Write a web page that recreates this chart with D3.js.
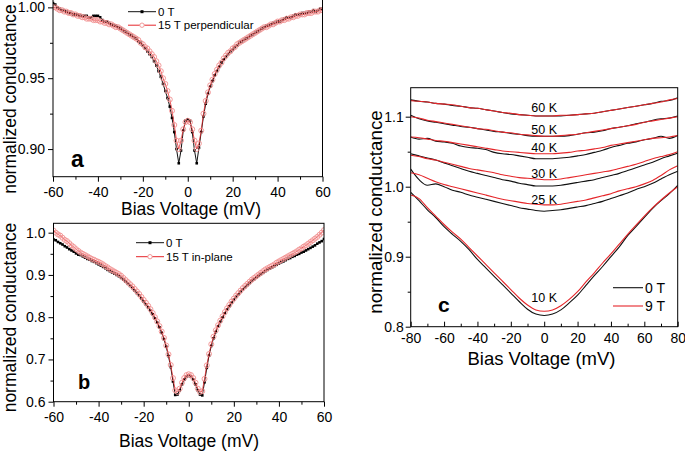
<!DOCTYPE html>
<html>
<head>
<meta charset="utf-8">
<script src="https://cdn.jsdelivr.net/npm/d3@7"></script>
<style>
  body { margin: 0; background: #fff; }
  svg { display: block; font-family: "Liberation Sans", Arial, sans-serif; }
</style>
</head>
<body>
<div id="chart"></div>
<script>
// ---- panels a and b: bias grid in mV, 1 mV steps
const biasAB = d3.range(-60, 61, 1);

const aZeroT = [
  1.003, 1.002, 1.000, 0.999, 0.998, 0.998, 0.997, 0.996, 0.996, 0.995,
  0.995, 0.995, 0.994, 0.994, 0.994, 0.994, 0.993, 0.993, 0.994, 0.994,
  0.994, 0.993, 0.991, 0.990, 0.990, 0.989, 0.988, 0.987, 0.987, 0.986,
  0.985, 0.984, 0.983, 0.982, 0.981, 0.980, 0.979, 0.978, 0.976, 0.975,
  0.973, 0.971, 0.969, 0.967, 0.965, 0.962, 0.959, 0.955, 0.951, 0.946,
  0.941, 0.936, 0.930, 0.922, 0.912, 0.900, 0.890, 0.899, 0.913, 0.920,
  0.921,
  0.920, 0.912, 0.899, 0.890, 0.901, 0.912, 0.923, 0.932, 0.939, 0.944,
  0.948, 0.952, 0.955, 0.958, 0.961, 0.963, 0.965, 0.967, 0.969, 0.970,
  0.972, 0.973, 0.975, 0.976, 0.977, 0.978, 0.979, 0.980, 0.981, 0.982,
  0.983, 0.984, 0.985, 0.986, 0.987, 0.987, 0.988, 0.989, 0.989, 0.990,
  0.990, 0.991, 0.992, 0.993, 0.993, 0.993, 0.994, 0.995, 0.995, 0.995,
  0.996, 0.996, 0.996, 0.997, 0.997, 0.998, 0.997, 0.998, 0.999, 0.999,
];
const aPerp = [
  1.000, 1.000, 0.999, 0.998, 0.998, 0.997, 0.997, 0.996, 0.996, 0.995,
  0.995, 0.994, 0.994, 0.993, 0.993, 0.992, 0.992, 0.992, 0.991, 0.991,
  0.991, 0.990, 0.990, 0.989, 0.989, 0.988, 0.988, 0.987, 0.986, 0.986,
  0.985, 0.984, 0.983, 0.982, 0.981, 0.980, 0.979, 0.978, 0.977, 0.975,
  0.974, 0.972, 0.971, 0.969, 0.967, 0.965, 0.962, 0.959, 0.955, 0.950,
  0.946, 0.941, 0.935, 0.927, 0.917, 0.906, 0.900, 0.906, 0.914, 0.919,
  0.920,
  0.919, 0.914, 0.906, 0.900, 0.904, 0.913, 0.925, 0.934, 0.940, 0.945,
  0.949, 0.953, 0.956, 0.959, 0.961, 0.964, 0.966, 0.968, 0.969, 0.971,
  0.972, 0.974, 0.975, 0.976, 0.977, 0.978, 0.979, 0.980, 0.981, 0.982,
  0.983, 0.984, 0.985, 0.986, 0.986, 0.987, 0.988, 0.988, 0.989, 0.990,
  0.990, 0.991, 0.991, 0.992, 0.992, 0.993, 0.993, 0.994, 0.994, 0.995,
  0.995, 0.995, 0.996, 0.996, 0.996, 0.997, 0.997, 0.997, 0.998, 0.998,
];
const bZeroT = [
  0.984, 0.982, 0.978, 0.975, 0.972, 0.968, 0.965, 0.961, 0.958, 0.955,
  0.951, 0.948, 0.947, 0.944, 0.941, 0.938, 0.936, 0.933, 0.931, 0.928,
  0.925, 0.922, 0.919, 0.916, 0.912, 0.909, 0.906, 0.903, 0.900, 0.897,
  0.893, 0.889, 0.884, 0.879, 0.874, 0.869, 0.863, 0.857, 0.851, 0.844,
  0.837, 0.830, 0.823, 0.815, 0.807, 0.797, 0.787, 0.776, 0.763, 0.748,
  0.730, 0.708, 0.682, 0.648, 0.616, 0.617, 0.627, 0.641, 0.652, 0.659,
  0.661,
  0.659, 0.652, 0.641, 0.627, 0.617, 0.615, 0.646, 0.680, 0.709, 0.732,
  0.750, 0.765, 0.778, 0.789, 0.799, 0.809, 0.818, 0.826, 0.834, 0.841,
  0.848, 0.854, 0.860, 0.866, 0.871, 0.876, 0.881, 0.886, 0.890, 0.894,
  0.898, 0.902, 0.905, 0.909, 0.912, 0.915, 0.918, 0.921, 0.924, 0.927,
  0.930, 0.932, 0.935, 0.938, 0.940, 0.943, 0.945, 0.948, 0.950, 0.953,
  0.955, 0.958, 0.961, 0.964, 0.967, 0.970, 0.974, 0.977, 0.980, 0.985,
];
const bInPlane = [
  1.005, 1.000, 0.996, 0.993, 0.988, 0.983, 0.980, 0.975, 0.970, 0.966,
  0.961, 0.957, 0.953, 0.950, 0.947, 0.944, 0.941, 0.938, 0.936, 0.933,
  0.931, 0.928, 0.925, 0.921, 0.918, 0.914, 0.911, 0.908, 0.905, 0.902,
  0.898, 0.893, 0.888, 0.883, 0.878, 0.873, 0.867, 0.861, 0.855, 0.848,
  0.841, 0.834, 0.827, 0.819, 0.810, 0.800, 0.790, 0.779, 0.766, 0.751,
  0.733, 0.712, 0.687, 0.656, 0.627, 0.623, 0.631, 0.645, 0.656, 0.663,
  0.665,
  0.663, 0.656, 0.645, 0.631, 0.623, 0.625, 0.654, 0.686, 0.713, 0.736,
  0.754, 0.769, 0.781, 0.792, 0.802, 0.812, 0.821, 0.829, 0.837, 0.844,
  0.851, 0.857, 0.863, 0.869, 0.874, 0.879, 0.884, 0.889, 0.893, 0.897,
  0.901, 0.905, 0.909, 0.913, 0.916, 0.919, 0.922, 0.925, 0.929, 0.932,
  0.935, 0.938, 0.941, 0.944, 0.947, 0.950, 0.953, 0.956, 0.960, 0.963,
  0.967, 0.970, 0.974, 0.978, 0.982, 0.986, 0.990, 0.995, 1.000, 1.006,
];

// ---- panel c: bias grid in mV, 5 mV steps
const biasC = d3.range(-80, 81, 5);
const c60K0T = [1.124,1.122,1.121,1.119,1.118,1.116,1.115,1.113,1.112,1.110,1.108,1.106,1.104,1.103,1.102,1.101,1.101,1.101,1.101,1.102,1.103,1.104,1.105,1.107,1.109,1.111,1.113,1.115,1.117,1.119,1.122,1.123,1.127];
const c60K9T = [1.123,1.122,1.121,1.119,1.118,1.117,1.115,1.113,1.112,1.110,1.108,1.106,1.105,1.103,1.102,1.101,1.101,1.101,1.102,1.102,1.103,1.104,1.105,1.107,1.109,1.111,1.113,1.115,1.117,1.119,1.121,1.124,1.126];
const c50K0T = [1.102,1.097,1.094,1.092,1.090,1.088,1.086,1.085,1.083,1.081,1.079,1.078,1.076,1.075,1.073,1.072,1.072,1.072,1.072,1.073,1.075,1.077,1.078,1.080,1.083,1.085,1.087,1.090,1.092,1.095,1.097,1.098,1.101];
const c50K9T = [1.100,1.098,1.095,1.093,1.091,1.089,1.087,1.085,1.083,1.082,1.080,1.078,1.077,1.075,1.074,1.073,1.072,1.072,1.073,1.074,1.075,1.077,1.079,1.081,1.083,1.085,1.087,1.089,1.092,1.094,1.096,1.098,1.100];
const c40K0T = [1.071,1.068,1.069,1.065,1.064,1.062,1.058,1.056,1.055,1.053,1.049,1.047,1.046,1.044,1.042,1.040,1.040,1.040,1.041,1.042,1.044,1.046,1.049,1.052,1.056,1.059,1.062,1.064,1.067,1.069,1.072,1.069,1.073];
const c40K9T = [1.071,1.070,1.068,1.066,1.065,1.063,1.061,1.059,1.057,1.055,1.053,1.051,1.050,1.049,1.048,1.047,1.047,1.047,1.048,1.049,1.051,1.052,1.054,1.056,1.059,1.061,1.063,1.065,1.067,1.069,1.070,1.071,1.073];
const c30K0T = [1.047,1.044,1.041,1.038,1.034,1.030,1.026,1.022,1.019,1.016,1.013,1.010,1.008,1.005,1.003,1.001,1.001,1.001,1.002,1.004,1.006,1.008,1.010,1.013,1.016,1.019,1.023,1.027,1.031,1.035,1.040,1.044,1.048];
const c30K9T = [1.045,1.043,1.040,1.038,1.035,1.032,1.029,1.026,1.024,1.022,1.020,1.017,1.015,1.013,1.012,1.011,1.010,1.010,1.011,1.013,1.015,1.017,1.019,1.021,1.023,1.026,1.029,1.032,1.036,1.040,1.043,1.046,1.050];
const c25K0T = [1.025,1.010,1.002,1.004,1.000,0.995,0.992,0.988,0.985,0.982,0.979,0.976,0.973,0.970,0.968,0.966,0.965,0.966,0.967,0.969,0.971,0.973,0.976,0.979,0.983,0.987,0.991,0.996,1.000,1.005,1.011,1.017,1.022];
const c25K9T = [1.020,1.017,1.012,1.007,1.003,1.000,0.997,0.994,0.991,0.988,0.985,0.982,0.980,0.978,0.976,0.975,0.974,0.974,0.975,0.977,0.979,0.981,0.984,0.987,0.990,0.994,0.997,1.000,1.004,1.009,1.016,1.024,1.030];
const c10K0T = [0.992,0.980,0.967,0.956,0.943,0.932,0.922,0.910,0.896,0.884,0.872,0.860,0.848,0.836,0.825,0.818,0.816,0.818,0.824,0.834,0.845,0.859,0.873,0.886,0.900,0.914,0.930,0.943,0.956,0.969,0.980,0.990,1.002];
const c10K9T = [0.988,0.983,0.970,0.958,0.946,0.935,0.925,0.913,0.901,0.889,0.877,0.865,0.853,0.841,0.831,0.824,0.822,0.824,0.830,0.839,0.850,0.864,0.877,0.891,0.904,0.918,0.932,0.945,0.958,0.970,0.981,0.991,1.000];
const tempLabels = ["60 K", "50 K", "40 K", "30 K", "25 K", "10 K"];
const tempLabelLevels = [1.113, 1.081, 1.056, 1.019, 0.982, 0.842];

const BLACK = "#111";
const RED = "#e5262a";
const PINK = "#f09090";

// plain hyphen for negative tick labels, as in the original figure
const plainInt = (d) => String(d);

const svg = d3.select("#chart").append("svg").attr("width", 685).attr("height", 451);

function styleAxis(g, size) {
  g.attr("font-size", size).attr("font-family", null);
  g.select(".domain").remove();
  g.selectAll("line").attr("stroke", "#000");
  g.selectAll("text").attr("fill", "#000");
}

function frame(g, x, y) {
  const [x0, x1] = x.range();
  const [yb, yt] = y.range();
  g.append("rect")
    .attr("x", x0).attr("y", yt)
    .attr("width", x1 - x0).attr("height", yb - yt)
    .attr("fill", "none").attr("stroke", "#000").attr("stroke-width", 1);
}

function clip(g, id, x, y) {
  const [x0, x1] = x.range();
  const [yb, yt] = y.range();
  g.append("clipPath").attr("id", id).append("rect")
    .attr("x", x0).attr("y", yt).attr("width", x1 - x0).attr("height", yb - yt);
  return g.append("g").attr("clip-path", `url(#${id})`);
}

function fieldPanel(p) {
  const x = d3.scaleLinear().domain([-60, 60]).range(p.xRange);
  const y = d3.scaleLinear().domain(p.yDomain).range(p.yRange);
  const g = svg.append("g");
  const yb = y.range()[0];
  const x0 = x.range()[0];

  // bottom axis, outward ticks
  g.append("g").attr("transform", `translate(0,${yb})`)
    .call(d3.axisBottom(x).tickValues(d3.range(-50, 60, 20)).tickSize(3).tickFormat(""))
    .call((a) => styleAxis(a, 14));
  g.append("g").attr("transform", `translate(0,${yb})`)
    .call(d3.axisBottom(x).tickValues(d3.range(-60, 61, 20)).tickSize(5).tickPadding(5).tickFormat(plainInt))
    .call((a) => styleAxis(a, 14));
  // left axis
  g.append("g").attr("transform", `translate(${x0},0)`)
    .call(d3.axisLeft(y).tickValues(p.yMinor).tickSize(3).tickFormat(""))
    .call((a) => styleAxis(a, 14));
  g.append("g").attr("transform", `translate(${x0},0)`)
    .call(d3.axisLeft(y).tickValues(p.yMajor).tickSize(5).tickPadding(3).tickFormat(d3.format(p.yFormat)))
    .call((a) => styleAxis(a, 14));

  const plot = clip(g, p.id, x, y);
  const line = d3.line().x((d, i) => x(biasAB[i])).y((d) => y(d));

  plot.append("path").datum(p.zero)
    .attr("d", line).attr("fill", "none").attr("stroke", BLACK).attr("stroke-width", 1);
  plot.append("g").selectAll("rect").data(p.zero).join("rect")
    .attr("x", (d, i) => x(biasAB[i]) - 1.3).attr("y", (d) => y(d) - 1.3)
    .attr("width", 2.6).attr("height", 2.6).attr("fill", "#000");

  plot.append("path").datum(p.field)
    .attr("d", line).attr("fill", "none").attr("stroke", RED).attr("stroke-width", 0.8);
  plot.append("g").selectAll("circle").data(p.field).join("circle")
    .attr("cx", (d, i) => x(biasAB[i])).attr("cy", (d) => y(d))
    .attr("r", 2.5).attr("fill", "none").attr("stroke", PINK).attr("stroke-width", 0.9);

  frame(g, x, y);

  // legend
  const lg = g.append("g").attr("font-size", 11.5);
  const [lx, ly] = p.legend;
  lg.append("line").attr("x1", lx).attr("x2", lx + 28).attr("y1", ly).attr("y2", ly)
    .attr("stroke", BLACK).attr("stroke-width", 1);
  lg.append("rect").attr("x", lx + 12.5).attr("y", ly - 1.5).attr("width", 3).attr("height", 3).attr("fill", "#000");
  lg.append("text").attr("x", lx + 30).attr("y", ly).attr("dy", "0.35em").text("0 T");
  lg.append("line").attr("x1", lx).attr("x2", lx + 28).attr("y1", ly + p.legendGap).attr("y2", ly + p.legendGap)
    .attr("stroke", RED).attr("stroke-width", 1);
  lg.append("circle").attr("cx", lx + 14).attr("cy", ly + p.legendGap).attr("r", 2.2)
    .attr("fill", "#fff").attr("stroke", PINK).attr("stroke-width", 0.9);
  lg.append("text").attr("x", lx + 30).attr("y", ly + p.legendGap).attr("dy", "0.35em").text(p.fieldLabel);

  // panel letter
  g.append("text").attr("x", p.letterPos[0]).attr("y", p.letterPos[1])
    .attr("font-size", p.letterSize).attr("font-weight", "bold").text(p.letter);

  // axis titles
  g.append("text").attr("x", p.xTitle[0]).attr("y", p.xTitle[1])
    .attr("text-anchor", "middle").attr("font-size", 17.5).text("Bias Voltage (mV)");
  g.append("text").attr("transform", `translate(${p.yTitle[0]},${p.yTitle[1]}) rotate(-90)`)
    .attr("text-anchor", "middle").attr("font-size", 17.5).text("normalized conductance");
}

fieldPanel({
  id: "clip-a",
  xRange: [53, 322.5],
  yDomain: [0.8805, 1.0059],
  yRange: [176.7, -1],
  yMajor: [0.9, 0.95, 1.0],
  yMinor: [0.925, 0.975],
  yFormat: ".2f",
  zero: aZeroT,
  field: aPerp,
  fieldLabel: "15 T perpendicular",
  legend: [128, 11.7],
  legendGap: 13.5,
  letter: "a",
  letterPos: [71, 167],
  letterSize: 23,
  xTitle: [191, 215],
  yTitle: [15.5, 99],
});

fieldPanel({
  id: "clip-b",
  xRange: [53.5, 324],
  yDomain: [0.6, 1.0222],
  yRange: [401.7, 223.3],
  yMajor: [0.6, 0.7, 0.8, 0.9, 1.0],
  yMinor: [0.65, 0.75, 0.85, 0.95],
  yFormat: ".1f",
  zero: bZeroT,
  field: bInPlane,
  fieldLabel: "15 T in-plane",
  legend: [136, 242.7],
  legendGap: 14,
  letter: "b",
  letterPos: [78, 389],
  letterSize: 20,
  xTitle: [189, 447],
  yTitle: [15.5, 317.5],
});

// ---- panel c
(function () {
  const x = d3.scaleLinear().domain([-80, 80]).range([410.7, 677.7]);
  const y = d3.scaleLinear().domain([0.8, 1.1414]).range([326.7, 87.7]);
  const g = svg.append("g");
  const yb = y.range()[0];
  const x0 = x.range()[0];

  // bottom axis, inward ticks
  g.append("g").attr("transform", `translate(0,${yb})`)
    .call(d3.axisBottom(x).tickValues(d3.range(-70, 80, 20)).tickSize(-3).tickFormat(""))
    .call((a) => styleAxis(a, 14));
  g.append("g").attr("transform", `translate(0,${yb})`)
    .call(d3.axisBottom(x).tickValues(d3.range(-80, 81, 20)).tickSize(-5).tickPadding(6).tickFormat(plainInt))
    .call((a) => styleAxis(a, 14));
  g.append("g").attr("transform", `translate(${x0},0)`)
    .call(d3.axisLeft(y).tickValues([0.85, 0.95, 1.05]).tickSize(3).tickFormat(""))
    .call((a) => styleAxis(a, 14));
  g.append("g").attr("transform", `translate(${x0},0)`)
    .call(d3.axisLeft(y).tickValues([0.8, 0.9, 1.0, 1.1]).tickSize(5).tickPadding(2).tickFormat(d3.format(".1f")))
    .call((a) => styleAxis(a, 14));

  const plot = clip(g, "clip-c", x, y);
  const line = d3.line().x((d, i) => x(biasC[i])).y((d) => y(d)).curve(d3.curveMonotoneX);
  const zeroCurves = [c60K0T, c50K0T, c40K0T, c30K0T, c25K0T, c10K0T];
  const fieldCurves = [c60K9T, c50K9T, c40K9T, c30K9T, c25K9T, c10K9T];

  plot.append("g").selectAll("path").data(zeroCurves).join("path")
    .attr("d", line).attr("fill", "none").attr("stroke", BLACK).attr("stroke-width", 1.1);
  plot.append("g").selectAll("path").data(fieldCurves).join("path")
    .attr("d", line).attr("fill", "none").attr("stroke", RED).attr("stroke-width", 1.1);

  frame(g, x, y);

  g.append("g").selectAll("text").data(tempLabels).join("text")
    .attr("x", x(0)).attr("y", (d, i) => y(tempLabelLevels[i]))
    .attr("dy", "0.35em").attr("text-anchor", "middle")
    .attr("font-size", 12.5).text((d) => d);

  // legend
  const lg = g.append("g").attr("font-size", 14);
  [["0 T", BLACK, 287.7], ["9 T", RED, 306]].forEach(([label, color, ly]) => {
    lg.append("line").attr("x1", 613).attr("x2", 643).attr("y1", ly).attr("y2", ly)
      .attr("stroke", color).attr("stroke-width", 1.1);
    lg.append("text").attr("x", 645).attr("y", ly).attr("dy", "0.35em").text(label);
  });

  g.append("text").attr("x", 438).attr("y", 312)
    .attr("font-size", 21).attr("font-weight", "bold").text("c");

  g.append("text").attr("x", 541.5).attr("y", 365)
    .attr("text-anchor", "middle").attr("font-size", 18.5).text("Bias Voltage (mV)");
  g.append("text").attr("transform", "translate(382,212) rotate(-90)")
    .attr("text-anchor", "middle").attr("font-size", 18.8).text("normalized conductance");
})();
</script>
</body>
</html>
